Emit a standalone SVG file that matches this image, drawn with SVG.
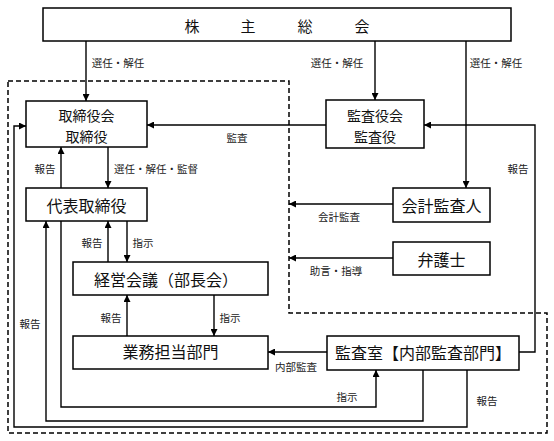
<svg xmlns="http://www.w3.org/2000/svg" width="554" height="441" viewBox="0 0 554 441">
<defs>
<marker id="ah" viewBox="0 0 10 10" refX="10" refY="5" markerWidth="7" markerHeight="7" markerUnits="userSpaceOnUse" orient="auto">
<path d="M0,0 L10,5 L0,10 Z" fill="#000"/>
</marker>
<style>
.box{fill:#fff;stroke:#000;stroke-width:1.5}
.t{font-family:"Noto Sans CJK JP","Noto Sans CJK SC",sans-serif;font-size:16px;text-anchor:middle;dominant-baseline:central;fill:#111}
.t2{font-size:15px}
.t3{font-size:14px}
.l{font-family:"Noto Sans CJK JP","Noto Sans CJK SC",sans-serif;font-size:10.5px;text-anchor:middle;dominant-baseline:central;fill:#222}
.c{fill:none;stroke:#000;stroke-width:1.4}
.a{marker-end:url(#ah)}
.d{fill:none;stroke:#000;stroke-width:1.5;stroke-dasharray:5,3}
</style>
</defs>
<rect width="554" height="441" fill="#fff"/>
<path class="d" d="M8,81 H289 V313 H547 V433 H8 Z"/>
<g id="connectors">
<path class="c a" d="M86,41 V101"/>
<path class="c a" d="M375,41 V100"/>
<path class="c a" d="M466,41 V188"/>
<path class="c a" d="M326,125 H147"/>
<path class="c a" d="M519,352 H535 V125 H424"/>
<path class="c a" d="M393,204 H289"/>
<path class="c a" d="M393,258 H289"/>
<path class="c a" d="M61,188 V147"/>
<path class="c a" d="M108,147 V188"/>
<path class="c a" d="M108,262 V221"/>
<path class="c a" d="M127,221 V262"/>
<path class="c a" d="M127,336 V295"/>
<path class="c a" d="M214,295 V336"/>
<path class="c a" d="M327,352 H268"/>
<path class="c a" d="M61,221 V407 H376 V370"/>
<path class="c a" d="M423,370 V421 H46 V221"/>
<path class="c a" d="M467,370 V427 H14 V126 H26"/>
<text class="l" x="118" y="62">選任・解任</text>
<text class="l" x="337" y="62">選任・解任</text>
<text class="l" x="496" y="62">選任・解任</text>
<text class="l" x="237" y="137">監査</text>
<text class="l" x="45" y="168">報告</text>
<text class="l" x="156" y="168">選任・解任・監督</text>
<text class="l" x="518" y="168">報告</text>
<text class="l" x="339" y="216">会計監査</text>
<text class="l" x="336" y="270">助言・指導</text>
<text class="l" x="92" y="242">報告</text>
<text class="l" x="143" y="242">指示</text>
<text class="l" x="111" y="317">報告</text>
<text class="l" x="230" y="317">指示</text>
<text class="l" x="30" y="323">報告</text>
<text class="l" x="296" y="366">内部監査</text>
<text class="l" x="347" y="396">指示</text>
<text class="l" x="487" y="400">報告</text>
</g>
<g id="shareholders">
<rect class="box" x="43" y="8" width="468" height="33"/>
<text class="t t2" x="192" y="25">株</text>
<text class="t t2" x="248" y="25">主</text>
<text class="t t2" x="305" y="25">総</text>
<text class="t t2" x="362" y="25">会</text>
</g>
<g id="board">
<rect class="box" x="26" y="101" width="121" height="46"/>
<text class="t t3" x="86.5" y="115">取締役会</text>
<text class="t t3" x="86.5" y="135.5">取締役</text>
</g>
<g id="auditors">
<rect class="box" x="326" y="100" width="98" height="48"/>
<text class="t t3" x="375" y="115">監査役会</text>
<text class="t t3" x="375" y="135.5">監査役</text>
</g>
<g id="president">
<rect class="box" x="26" y="188" width="121" height="33"/>
<text class="t" x="86.5" y="205">代表取締役</text>
</g>
<g id="accountant">
<rect class="box" x="393" y="188" width="97" height="34"/>
<text class="t" x="441.5" y="205">会計監査人</text>
</g>
<g id="lawyer">
<rect class="box" x="393" y="242" width="97" height="33"/>
<text class="t" x="441.5" y="258.5">弁護士</text>
</g>
<g id="management">
<rect class="box" x="73" y="262" width="195" height="33"/>
<text class="t" x="166" y="278.5">経営会議（部長会）</text>
</g>
<g id="operations">
<rect class="box" x="73" y="336" width="195" height="33"/>
<text class="t" x="170.5" y="351">業務担当部門</text>
</g>
<g id="internal-audit">
<rect class="box" x="327" y="336" width="192" height="34"/>
<text class="t" x="423" y="352">監査室【内部監査部門】</text>
</g>
</svg>
